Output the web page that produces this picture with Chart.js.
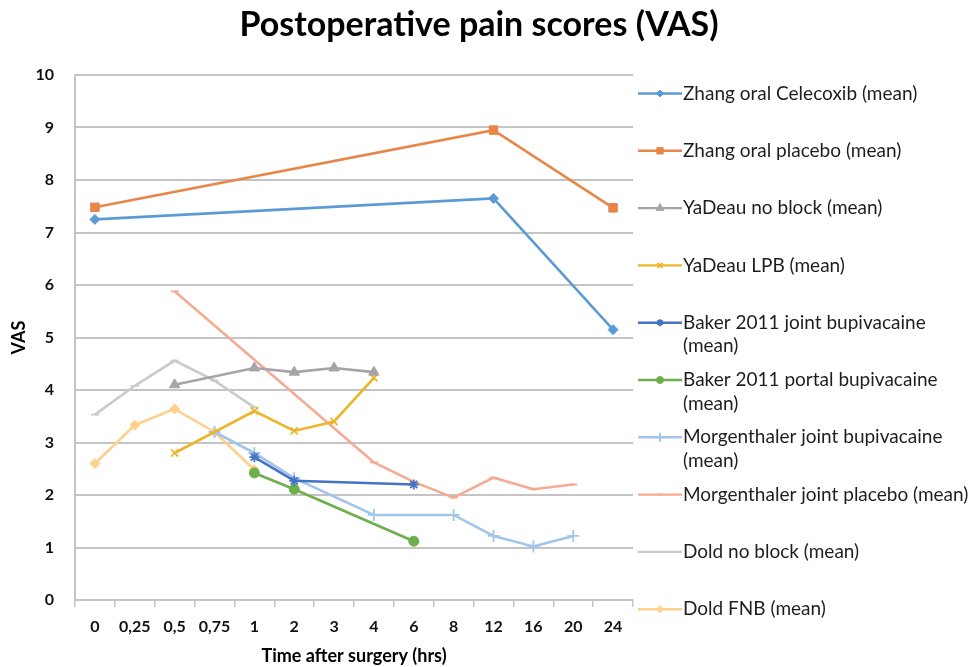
<!DOCTYPE html>
<html>
<head>
<meta charset="utf-8">
<script src="https://cdn.jsdelivr.net/npm/chart.js@4.4.1/dist/chart.umd.min.js"></script>
<style>
  html, body { margin: 0; padding: 0; background: #fff; }
  #wrap { width: 971px; height: 667px; }
</style>
</head>
<body>
<div id="wrap"><canvas id="painChart" width="971" height="667"></canvas></div>
<script>
// time points after surgery (category axis)
const timeLabels = ['0', '0,25', '0,5', '0,75', '1', '2', '3', '4', '6', '8', '12', '16', '20', '24'];
const vasTicks = [0, 1, 2, 3, 4, 5, 6, 7, 8, 9, 10];

// mean VAS per study arm, null = not measured
const zhangCelecoxib   = [7.25, null, null, null, null, null, null, null, null, null, 7.65, null, null, 5.15];
const zhangPlacebo     = [7.48, null, null, null, null, null, null, null, null, null, 8.95, null, null, 7.47];
const yadeauNoBlock    = [null, null, 4.10, null, 4.42, 4.34, 4.42, 4.34, null, null, null, null, null, null];
const yadeauLpb        = [null, null, 2.80, null, 3.60, 3.22, 3.40, 4.23, null, null, null, null, null, null];
const bakerJoint       = [null, null, null, null, 2.72, 2.27, null, null, 2.20, null, null, null, null, null];
const bakerPortal      = [null, null, null, null, 2.42, 2.11, null, null, 1.12, null, null, null, null, null];
const morgenthalerBupi = [null, null, null, 3.20, 2.80, 2.32, null, 1.62, null, 1.62, 1.22, 1.02, 1.22, null];
const morgenthalerPlac = [null, null, 5.88, null, null, null, null, 2.62, 2.25, 1.95, 2.33, 2.11, 2.20, null];
const doldNoBlock      = [3.53, 4.08, 4.56, 4.18, 3.67, null, null, null, null, null, null, null, null, null];
const doldFnb          = [2.60, 3.33, 3.64, 3.20, 2.48, null, null, null, null, null, null, null, null, null];

const seriesNames = [
  'Zhang oral Celecoxib (mean)',
  'Zhang oral placebo (mean)',
  'YaDeau no block (mean)',
  'YaDeau LPB (mean)',
  'Baker 2011 joint bupivacaine\n(mean)',
  'Baker 2011 portal bupivacaine\n(mean)',
  'Morgenthaler joint bupivacaine\n(mean)',
  'Morgenthaler joint placebo (mean)',
  'Dold no block (mean)',
  'Dold FNB (mean)'
];
const chartTitle = 'Postoperative pain scores (VAS)';

const FONT = 'Lato, "Open Sans", sans-serif';
const GRID = '#c4c4c4';

function series(i, data, color, style, radius) {
  return {
    label: seriesNames[i],
    data: data,
    borderColor: color,
    backgroundColor: color,
    borderWidth: 2.6,
    pointStyle: style,
    pointRadius: radius,
    pointBorderWidth: (style === 'cross' || style === 'crossRot' || style === 'star' || style === 'line') ? 1.8 : 1,
    pointHoverRadius: radius,
    spanGaps: true,
    tension: 0
  };
}

const datasets = [
  series(0, zhangCelecoxib, '#5b9bd5', 'rectRot', 5),
  series(1, zhangPlacebo, '#e8864a', 'rect', 6),
  series(2, yadeauNoBlock, '#a5a5a5', 'triangle', 6),
  series(3, yadeauLpb, '#ecb62c', 'crossRot', 5),
  series(4, bakerJoint, '#4472c4', 'star', 5),
  series(5, bakerPortal, '#6daf4c', 'circle', 5),
  series(6, morgenthalerBupi, '#a2c6ea', 'cross', 6),
  series(7, morgenthalerPlac, '#f5aa93', 'line', 4),
  series(8, doldNoBlock, '#cacaca', 'line', 4),
  series(9, doldFnb, '#ffd08c', 'rectRot', 5)
];

// title centred over the whole picture, legend at the right with line + marker icons
const sideLegend = {
  id: 'sideLegend',
  afterDraw(chart) {
    const ctx = chart.ctx;
    const x0 = 638, x1 = 682, tx = 683;
    ctx.save();
    ctx.fillStyle = '#000';
    ctx.font = 'bold 34px ' + FONT;
    ctx.textAlign = 'center';
    ctx.textBaseline = 'middle';
    ctx.fillText(chartTitle, 479, 25);

    chart.data.datasets.forEach((ds, i) => {
      const y = 93.5 + i * 57.3;
      ctx.strokeStyle = ds.borderColor;
      ctx.fillStyle = ds.backgroundColor;
      ctx.lineWidth = 2.4;
      ctx.beginPath();
      ctx.moveTo(x0, y);
      ctx.lineTo(x1, y);
      ctx.stroke();
      ctx.lineWidth = ds.pointBorderWidth;
      Chart.helpers.drawPoint(ctx, {
        pointStyle: ds.pointStyle,
        radius: Math.max(3, ds.pointRadius - 1.5),
        rotation: 0,
        borderWidth: ds.pointBorderWidth
      }, (x0 + x1) / 2, y);
      ctx.fillStyle = '#1e1e1e';
      ctx.font = '19px ' + FONT;
      ctx.textAlign = 'left';
      ctx.textBaseline = 'middle';
      ds.label.split('\n').forEach((line, j) => {
        ctx.fillText(line, tx, y + j * 23.5);
      });
    });
    ctx.restore();
  }
};

new Chart(document.getElementById('painChart'), {
  type: 'line',
  data: { labels: timeLabels, datasets: datasets },
  plugins: [sideLegend],
  options: {
    responsive: false,
    devicePixelRatio: 1,
    animation: false,
    layout: { padding: { left: 0, right: 338, top: 75, bottom: 0 } },
    plugins: {
      legend: { display: false },
      tooltip: { enabled: false },
      title: { display: false }
    },
    scales: {
      x: {
        type: 'category',
        offset: true,
        grid: {
          offset: true,
          drawOnChartArea: false,
          drawTicks: true,
          tickLength: 7,
          color: GRID,
          lineWidth: 1.5
        },
        border: { display: true, color: GRID, width: 2 },
        ticks: {
          color: '#111',
          padding: 10,
          maxRotation: 0,
          autoSkip: false,
          font: { family: FONT, size: 16, weight: 'bold' }
        },
        title: {
          display: true,
          text: 'Time after surgery (hrs)',
          color: '#000',
          font: { family: FONT, size: 18, weight: 'bold' },
          padding: { top: 0, bottom: 0 }
        },
        afterFit(scale) { scale.height = 67; }
      },
      y: {
        min: 0,
        max: 10,
        afterBuildTicks(scale) { scale.ticks = vasTicks.map(v => ({ value: v })); },
        grid: { color: GRID, lineWidth: 2, drawTicks: false },
        border: { display: true, color: GRID, width: 2 },
        ticks: {
          color: '#111',
          padding: 21,
          font: { family: FONT, size: 16, weight: 'bold' }
        },
        title: {
          display: true,
          text: 'VAS',
          color: '#000',
          font: { family: FONT, size: 18, weight: 'bold' },
          padding: { top: 8, bottom: 0 }
        },
        afterFit(scale) { scale.width = 75; }
      }
    }
  }
});
</script>
</body>
</html>
